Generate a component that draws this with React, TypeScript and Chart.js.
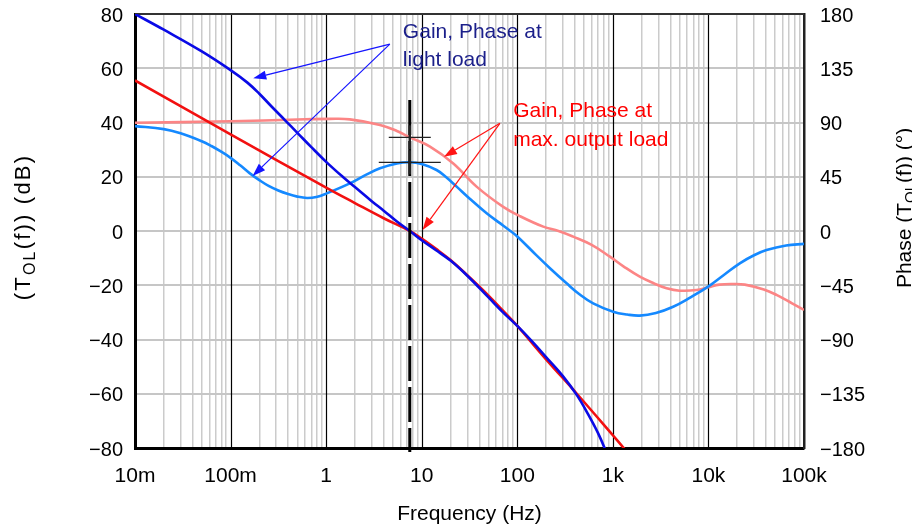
import React, { useEffect, useRef } from 'react';
import { Chart, registerables } from 'chart.js';

Chart.register(...registerables);

const FONT = '"Liberation Sans", Arial, Helvetica, sans-serif';

// ---- axes ----
const xMajorValues = [0.01, 0.1, 1, 10, 100, 1000, 10000, 100000];
const xMajorLabels = ['10m', '100m', '1', '10', '100', '1k', '10k', '100k'];
const xMinorMultipliers = [2, 3, 4, 5, 6, 7, 8, 9];
const gainTicks = [-80, -60, -40, -20, 0, 20, 40, 60, 80];
const phaseTicks = [-180, -135, -90, -45, 0, 45, 90, 135, 180];

// ---- series: gain at light load (dB) ----
const gainLightFreq = [0.01, 0.02, 0.05, 0.1, 0.15, 0.2, 0.27, 0.37, 0.5, 0.7, 1, 1.5, 2, 3, 4, 5.5, 7.5, 10, 14, 20, 30, 50, 70, 100, 150, 200, 300, 420, 550, 700, 830, 1000];
const gainLightDb = [80, 74.2, 66.2, 59.3, 54.7, 50.6, 45.8, 40.9, 36.2, 30.9, 25.5, 19.9, 16.2, 11, 7.5, 3.5, 0, -3.4, -7, -10.9, -16.5, -24.5, -29.8, -35, -41.5, -46.5, -53.5, -60.5, -67.5, -74.5, -80.5, -88];

// ---- series: gain at max. output load (dB) ----
const gainMaxFreq = [0.01, 0.1, 1, 2, 4, 7.5, 10, 14, 20, 30, 50, 70, 100, 200, 420, 1000, 1300, 1500];
const gainMaxDb = [55.5, 35.6, 16, 10.3, 4.7, 0, -2.8, -6.5, -10.7, -16.3, -23.8, -29.2, -35, -47.3, -60, -75.3, -80, -82.5];

// ---- series: phase at light load (deg) ----
const phaseLightFreq = [0.01, 0.02, 0.03, 0.05, 0.063, 0.079, 0.1, 0.126, 0.158, 0.2, 0.25, 0.316, 0.4, 0.5, 0.63, 0.79, 1, 1.77, 2.6, 3.66, 5.5, 7.5, 10, 14.3, 17.8, 23.2, 31.6, 47.8, 65.8, 80, 100, 158, 224, 328, 447, 622, 1007, 1413, 1914, 2818, 4276, 6500, 9931, 14500, 21280, 30000, 40550, 65000, 100000];
const phaseLightDeg = [87, 84.5, 81, 74.4, 70.5, 66, 60.7, 54.5, 48, 42.2, 37.4, 33.6, 30.6, 28.5, 27.4, 28.2, 31, 39.5, 46.5, 52, 56, 57, 55.5, 50.6, 45, 36.8, 27, 14.7, 6.5, 1.5, -4.5, -20, -31.5, -43.4, -52.5, -60, -66.9, -69.3, -70.2, -68, -62.8, -55, -46.2, -36.5, -26.8, -20.1, -15.8, -12, -10.7];

// ---- series: phase at max. output load (deg) ----
const phaseMaxFreq = [0.01, 0.1, 0.5, 1.1, 1.77, 3.66, 5.5, 7.5, 12.2, 21.4, 37.5, 71.3, 106, 187, 270, 385, 600, 931, 1300, 1914, 2700, 3648, 5000, 7500, 9931, 13000, 18110, 24000, 38000, 51520, 75000, 100000];
const phaseMaxDeg = [89.8, 91, 92.5, 93, 92.6, 88, 83, 77.7, 70, 56, 36.8, 20, 12.4, 3.6, 0, -4.7, -11.5, -21.3, -29.5, -37.9, -43.5, -47.5, -49.5, -49, -46.7, -44.5, -44, -44.5, -48.5, -53, -60, -65.5];

// ---- crossover marker ----
const crossoverHz = 7.5;
const crossoverPhases = [77.7, 57];
const dashTopDb = 48.3;

// ---- annotations (anchored in axis units: Hz, dB) ----
const lightNoteLines = ['Gain, Phase at', 'light load'];
const maxNoteLines = ['Gain, Phase at', 'max. output load'];
const lightNoteAnchor = { f: 6.35, db: 71.2 };
const maxNoteAnchor = { f: 90.6, db: 42.1 };
const lightArrowFrom = { f: 4.64, db: 68.9 };
const lightArrowTo = [{ f: 0.1726, db: 56.3 }, { f: 0.17, db: 20.3 }];
const maxArrowFrom = { f: 65.8, db: 39.7 };
const maxArrowTo = [{ f: 17.1, db: 27.4 }, { f: 10.2, db: 0.4 }];

const zip = (xs: number[], ys: number[]) => xs.map((x, i) => ({ x, y: ys[i] }));

const isMajor = (v: number | undefined) => {
  if (v === undefined || v === null) return false;
  const l = Math.log10(v);
  return Math.abs(l - Math.round(l)) < 1e-6;
};

const allXTicks: number[] = [];
xMajorValues.forEach((m, i) => {
  allXTicks.push(m);
  if (i < xMajorValues.length - 1) xMinorMultipliers.forEach((k) => allXTicks.push(+(k * m).toPrecision(4)));
});

const fmtMinus = (v: number) => (v < 0 ? '\u2212' + Math.abs(v) : String(v));

function drawArrow(ctx: CanvasRenderingContext2D, x0: number, y0: number, x1: number, y1: number, color: string) {
  const ang = Math.atan2(y1 - y0, x1 - x0);
  const L = 13, W = 4.5;
  const bx = x1 - L * Math.cos(ang), by = y1 - L * Math.sin(ang);
  ctx.strokeStyle = color;
  ctx.fillStyle = color;
  ctx.lineWidth = 1.2;
  ctx.beginPath();
  ctx.moveTo(x0, y0);
  ctx.lineTo(bx, by);
  ctx.stroke();
  ctx.beginPath();
  ctx.moveTo(x1, y1);
  ctx.lineTo(bx - W * Math.sin(ang), by + W * Math.cos(ang));
  ctx.lineTo(bx + W * Math.sin(ang), by - W * Math.cos(ang));
  ctx.closePath();
  ctx.fill();
}

function drawSubText(ctx: CanvasRenderingContext2D, parts: [string, boolean][], cx: number, cy: number, size: number, subSize: number, spacing: number) {
  const big = `${size}px ${FONT}`;
  const small = `${subSize}px ${FONT}`;
  (ctx as any).letterSpacing = `${spacing}px`;
  let total = 0;
  parts.forEach(([t, sub]) => {
    ctx.font = sub ? small : big;
    total += ctx.measureText(t).width;
  });
  let x = cx - total / 2;
  ctx.textAlign = 'left';
  ctx.textBaseline = 'alphabetic';
  parts.forEach(([t, sub]) => {
    ctx.font = sub ? small : big;
    ctx.fillText(t, x, cy + size * 0.36 + (sub ? size * 0.22 : 0));
    x += ctx.measureText(t).width;
  });
  (ctx as any).letterSpacing = '0px';
}

const noPad = (s: any) => {
  s.paddingTop = 0;
  s.paddingBottom = 0;
  s.paddingLeft = 0;
  s.paddingRight = 0;
};

const overlay = {
  id: 'overlay',
  beforeDatasetsDraw(chart: any) {
    const { ctx, chartArea, scales } = chart;
    ctx.save();
    ctx.strokeStyle = '#000';
    ctx.lineWidth = 1.2;
    xMajorValues.slice(1, -1).forEach((v) => {
      const px = Math.round(scales.x.getPixelForValue(v)) + 0.5;
      ctx.beginPath();
      ctx.moveTo(px, chartArea.top);
      ctx.lineTo(px, chartArea.bottom);
      ctx.stroke();
    });
    ctx.strokeStyle = '#333';
    ctx.lineWidth = 2;
    ctx.beginPath();
    ctx.moveTo(chartArea.left, chartArea.top);
    ctx.lineTo(chartArea.right, chartArea.top);
    ctx.stroke();
    ctx.restore();
  },
  afterDatasetsDraw(chart: any) {
    const { ctx, chartArea, scales } = chart;
    const X = (f: number) => scales.x.getPixelForValue(f);
    const Y = (d: number) => scales.y.getPixelForValue(d);
    const Y1 = (p: number) => scales.y1.getPixelForValue(p);
    ctx.save();
    const cx = X(crossoverHz);
    ctx.strokeStyle = '#000';
    ctx.lineWidth = 3;
    ctx.setLineDash([35, 6]);
    ctx.beginPath();
    ctx.moveTo(cx, Y(dashTopDb));
    ctx.lineTo(cx, chartArea.bottom + 4);
    ctx.stroke();
    ctx.setLineDash([]);
    ctx.strokeStyle = '#222';
    crossoverPhases.forEach((p, i) => {
      const py = Y1(p);
      const hw = i === 0 ? 21 : 31;
      ctx.lineWidth = 1.3;
      ctx.beginPath();
      ctx.moveTo(cx - hw, py);
      ctx.lineTo(cx + hw, py);
      ctx.stroke();
      ctx.lineWidth = 2.5;
      ctx.beginPath();
      ctx.moveTo(cx, py - 12);
      ctx.lineTo(cx, py + 12);
      ctx.stroke();
    });
    lightArrowTo.forEach((t) => drawArrow(ctx, X(lightArrowFrom.f), Y(lightArrowFrom.db), X(t.f), Y(t.db), '#1414ff'));
    maxArrowTo.forEach((t) => drawArrow(ctx, X(maxArrowFrom.f), Y(maxArrowFrom.db), X(t.f), Y(t.db), '#ff1414'));
    ctx.font = `21px ${FONT}`;
    ctx.textAlign = 'left';
    ctx.textBaseline = 'alphabetic';
    ctx.fillStyle = '#1b1f8a';
    lightNoteLines.forEach((t, i) => ctx.fillText(t, X(lightNoteAnchor.f), Y(lightNoteAnchor.db) + i * 28));
    ctx.fillStyle = '#ff0000';
    maxNoteLines.forEach((t, i) => ctx.fillText(t, X(maxNoteAnchor.f), Y(maxNoteAnchor.db) + i * 29));
    ctx.restore();
  },
  afterDraw(chart: any) {
    const { ctx, chartArea } = chart;
    ctx.save();
    ctx.fillStyle = '#000';
    ctx.font = `21px ${FONT}`;
    ctx.textAlign = 'center';
    ctx.textBaseline = 'alphabetic';
    ctx.fillText('Frequency (Hz)', (chartArea.left + chartArea.right) / 2, 520);
    ctx.save();
    ctx.translate(22, 227);
    ctx.rotate(-Math.PI / 2);
    drawSubText(ctx, [['(T', false], ['OL', true], ['(f)) (dB)', false]], 0, 0, 22, 16, 2.2);
    ctx.restore();
    ctx.save();
    ctx.translate(903, 208);
    ctx.rotate(-Math.PI / 2);
    drawSubText(ctx, [['Phase (T', false], ['OL', true], ['(f)) (\u00b0)', false]], 0, 0, 21, 15, 0);
    ctx.restore();
    ctx.restore();
  },
};

export default function App() {
  const ref = useRef<HTMLCanvasElement>(null);
  useEffect(() => {
    const canvas = ref.current!;
    const common = { pointRadius: 0, borderWidth: 2.6, tension: 0.4, cubicInterpolationMode: 'default' as const, fill: false };
    const chart = new Chart(canvas, {
      type: 'line',
      data: {
        datasets: [
          { label: 'Gain light load', data: zip(gainLightFreq, gainLightDb), yAxisID: 'y', borderColor: '#0a0ae6', ...common },
          { label: 'Gain max load', data: zip(gainMaxFreq, gainMaxDb), yAxisID: 'y', borderColor: '#f21010', ...common },
          { label: 'Phase light load', data: zip(phaseLightFreq, phaseLightDeg), yAxisID: 'y1', borderColor: '#1589ff', ...common },
          { label: 'Phase max load', data: zip(phaseMaxFreq, phaseMaxDeg), yAxisID: 'y1', borderColor: '#fc8585', ...common },
        ],
      },
      options: {
        responsive: false,
        animation: false,
        devicePixelRatio: 1,
        events: [],
        layout: { padding: { top: 14, left: 0, right: 0, bottom: 0 } },
        plugins: { legend: { display: false }, tooltip: { enabled: false }, title: { display: false } },
        scales: {
          x: {
            type: 'logarithmic',
            min: 0.01,
            max: 100000,
            position: 'bottom',
            afterBuildTicks: (s: any) => {
              s.ticks = allXTicks.map((v) => ({ value: v, major: isMajor(v) }));
            },
            afterFit: (s: any) => {
              s.height = 79;
              noPad(s);
            },
            ticks: {
              autoSkip: false,
              maxRotation: 0,
              minRotation: 0,
              padding: 16,
              color: '#000',
              font: { family: FONT, size: 21 },
              callback: (v: any) => {
                const i = xMajorValues.findIndex((m) => Math.abs(Math.log10(m) - Math.log10(Number(v))) < 1e-6);
                return i >= 0 ? xMajorLabels[i] : '';
              },
            },
            grid: {
              drawTicks: false,
              color: (c: any) => (isMajor(c.tick?.value) ? 'rgba(0,0,0,0)' : '#cbcbcb'),
              lineWidth: 1.5,
            },
            border: { color: '#000', width: 3 },
          },
          y: {
            type: 'linear',
            position: 'left',
            min: -80,
            max: 80,
            afterBuildTicks: (s: any) => {
              s.ticks = gainTicks.map((v) => ({ value: v }));
            },
            afterFit: (s: any) => {
              s.width = 135;
              noPad(s);
            },
            ticks: { padding: 12, labelOffset: 2, color: '#000', font: { family: FONT, size: 20 }, callback: (v: any) => fmtMinus(Number(v)) },
            grid: { drawTicks: false, color: '#c6c6c6', lineWidth: 2 },
            border: { color: '#000', width: 3 },
          },
          y1: {
            type: 'linear',
            position: 'right',
            min: -180,
            max: 180,
            afterBuildTicks: (s: any) => {
              s.ticks = phaseTicks.map((v) => ({ value: v }));
            },
            afterFit: (s: any) => {
              s.width = 108;
              noPad(s);
            },
            ticks: { padding: 16, labelOffset: 2, color: '#000', font: { family: FONT, size: 20 }, callback: (v: any) => fmtMinus(Number(v)) },
            grid: { drawTicks: false, drawOnChartArea: false },
            border: { color: '#222', width: 2.5 },
          },
        },
      },
      plugins: [overlay],
    } as any);
    return () => chart.destroy();
  }, []);
  return (
    <div style={{ position: 'absolute', left: 0, top: 0, width: 912, height: 527, background: '#fff' }}>
      <canvas ref={ref} width={912} height={527} style={{ display: 'block' }} />
    </div>
  );
}
